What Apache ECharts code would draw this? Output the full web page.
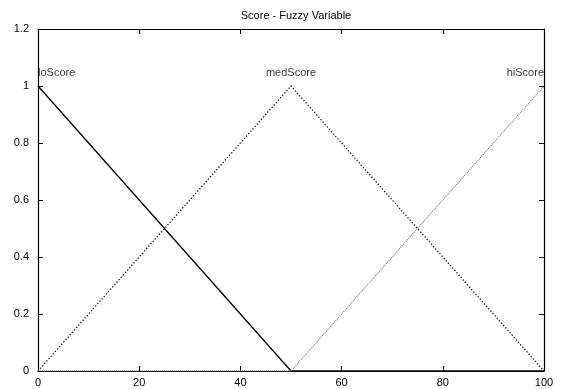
<!DOCTYPE html>
<html><head><meta charset="utf-8">
<script src="https://cdn.jsdelivr.net/npm/echarts@6/dist/echarts.min.js"></script>
<style>html,body{margin:0;padding:0;background:#fff}#c{width:567px;height:389px}</style>
</head><body><div id="c"></div>
<script>
const xTicks = [0, 20, 40, 60, 80, 100];
const yTicks = [0, 0.2, 0.4, 0.6, 0.8, 1, 1.2];
const loScore = [[0, 1], [50, 0], [100, 0]];
const medScore = [[0, 0], [50, 1], [100, 0]];
const hiScore = [[0, 0], [50, 0], [100, 1]];
const labelNames = ['loScore', 'medScore', 'hiScore'];
const labelX = [0, 50, 100];
const labelY = [1.047, 1.047, 1.047];
const labelAlign = ['left', 'center', 'right'];

const font = 'Liberation Sans, Arial, sans-serif';
const axisCommon = {
  axisLine: {show: true, onZero: false, lineStyle: {color: '#000', width: 1.2}},
  axisTick: {show: true, inside: true, length: 5, lineStyle: {color: '#000'}},
  splitLine: {show: false}
};
const chart = echarts.init(document.getElementById('c'));
chart.setOption({
  animation: false,
  backgroundColor: '#fff',
  title: {text: 'Score - Fuzzy Variable', left: 291, top: 5, textAlign: 'center',
    textStyle: {fontFamily: font, fontSize: 11, fontWeight: 'normal', color: '#000'}},
  grid: {left: 38, right: 23, top: 29, bottom: 18},
  xAxis: [
    Object.assign({type: 'value', min: 0, max: 100, interval: 20, position: 'bottom',
      axisLabel: {fontFamily: font, fontSize: 11, color: '#000', margin: 6,
        formatter: v => xTicks.includes(v) ? String(v) : ''}}, axisCommon),
    Object.assign({type: 'value', min: 0, max: 100, interval: 20, position: 'top',
      axisLabel: {show: false}}, axisCommon)
  ],
  yAxis: [
    Object.assign({type: 'value', min: 0, max: 1.2, interval: 0.2, position: 'left',
      axisLabel: {fontFamily: font, fontSize: 11, color: '#000', margin: 9,
        formatter: v => { const t = yTicks.find(k => Math.abs(k - v) < 1e-9); return t === undefined ? '' : String(t); }}}, axisCommon),
    Object.assign({type: 'value', min: 0, max: 1.2, interval: 0.2, position: 'right',
      axisLabel: {show: false}}, axisCommon)
  ],
  series: [
    {name: 'loScore', type: 'line', data: loScore, symbol: 'none',
      lineStyle: {color: '#000', width: 1.3, type: 'solid'}},
    {name: 'medScore', type: 'line', data: medScore, symbol: 'none',
      lineStyle: {color: '#000', width: 1.3, type: [1.2, 2]}},
    {name: 'hiScore', type: 'line', data: hiScore, symbol: 'none',
      lineStyle: {color: '#777', width: 1.1, type: [1, 1]}},
    {type: 'scatter', symbolSize: 0, silent: true,
      data: labelNames.map((n, i) => ({value: [labelX[i], labelY[i]], name: n,
        label: {show: true, position: 'inside', formatter: n, align: labelAlign[i],
          verticalAlign: 'middle', fontFamily: font, fontSize: 11, color: '#000'}}))}
  ]
});
</script></body></html>
